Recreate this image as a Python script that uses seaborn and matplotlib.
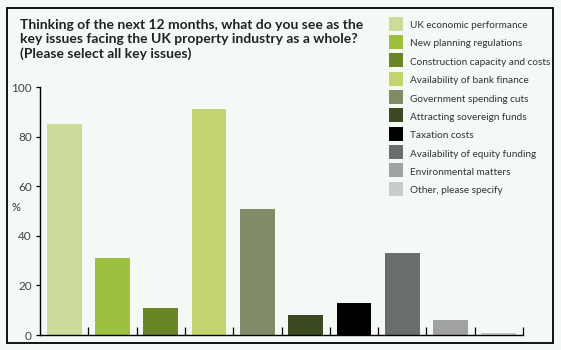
import matplotlib
matplotlib.use("Agg")
import matplotlib.pyplot as plt
import matplotlib.patches as mpatches
from matplotlib.lines import Line2D
from matplotlib.ticker import FixedLocator
import seaborn as sns
import pandas as pd

categories = [
    "UK economic performance",
    "New planning regulations",
    "Construction capacity and costs",
    "Availability of bank finance",
    "Government spending cuts",
    "Attracting sovereign funds",
    "Taxation costs",
    "Availability of equity funding",
    "Environmental matters",
    "Other, please specify",
]
values = [85, 31, 11, 91, 51, 8, 13, 33, 6, 1]
colors = ["#cbdc9a", "#9dc03f", "#6a8527", "#c3d46e", "#808c68",
          "#3c4a22", "#000000", "#6b6f6c", "#9fa2a1", "#c9cccb"]
yticks = [0, 20, 40, 60, 80, 100]
title = ("Thinking of the next 12 months, what do you see as the\n"
         "key issues facing the UK property industry as a whole?\n"
         "(Please select all key issues)")

sns.set_theme(style="white")
plt.rcParams["font.family"] = ["Lato", "DejaVu Sans"]

bg = "#f5f9f6"
W, H = 561, 350
fig = plt.figure(figsize=(W / 100, H / 100), dpi=100, facecolor=bg)
ax = fig.add_axes([40 / W, 1 - 335 / H, (523 - 40) / W, (335 - 87) / H])
ax.set_facecolor(bg)

df = pd.DataFrame({"cat": categories, "val": values})
sns.barplot(data=df, x="cat", y="val", hue="cat", palette=colors,
            order=categories, hue_order=categories, legend=False,
            width=0.72, saturation=1, linewidth=0, edgecolor="none", ax=ax)

ax.set_xlim(-0.5, len(categories) - 0.5)
ax.set_ylim(0, 100)
ax.set_xlabel("")
ax.set_ylabel("%", rotation=0, fontsize=8, color="#333333", labelpad=10)
ax.yaxis.set_label_coords(-0.05, 0.49)
ax.set_yticks(yticks)
ax.set_yticklabels([str(t) for t in yticks], fontsize=8.5, color="#444444")
ax.tick_params(axis="y", direction="out", length=3, width=0.9, color="black", pad=3, left=True)
ax.set_xticks([])
ax.xaxis.set_minor_locator(FixedLocator([i + 0.5 for i in range(len(categories))]))
ax.tick_params(axis="x", which="minor", direction="in", length=6, width=0.9, color="black", bottom=True)
for s in ["top", "right"]:
    ax.spines[s].set_visible(False)
for s in ["left", "bottom"]:
    ax.spines[s].set_visible(True)
    ax.spines[s].set_color("black")
    ax.spines[s].set_linewidth(1.0)

handles = [Line2D([], [], marker="s", markersize=10, linestyle="none",
                  markerfacecolor=c, markeredgewidth=0, label=l)
           for c, l in zip(colors, categories)]
fig.legend(handles=handles, loc="upper left",
           bbox_to_anchor=(389 / W, 1 - 19 / H), frameon=False,
           fontsize=7.2, handlelength=1.4, handleheight=1.4,
           handletextpad=0.7, labelspacing=0.68, borderpad=0, borderaxespad=0,
           labelcolor="#333333")

fig.text(20 / W, 1 - 19 / H, title, ha="left", va="top", fontsize=10,
         fontweight="bold", color="#222222", linespacing=1.22)

fig.add_artist(mpatches.Rectangle((7 / W, 1 - 343 / H), (553 - 7) / W, (343 - 8) / H,
                                  transform=fig.transFigure, fill=False,
                                  edgecolor="black", linewidth=1.3))

fig.savefig("out.png", dpi=100, facecolor=bg)
